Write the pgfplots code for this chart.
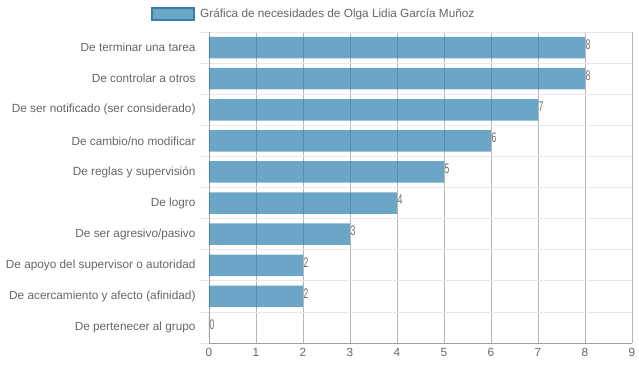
\documentclass[border=0pt]{standalone}
\usepackage{pgfplots}
\pgfplotsset{compat=1.18}
\usepackage{fontspec}
\setmainfont{Liberation Sans}
\definecolor{barbase}{HTML}{2D80AE}
\definecolor{barline}{HTML}{3A7FA9}
\definecolor{txt}{HTML}{666666}
\definecolor{vgrid}{HTML}{B5B5B5}
\definecolor{hgrid}{HTML}{E8E8E8}
\definecolor{axln}{HTML}{A0A0A0}
\definecolor{vallab}{HTML}{333333}
\begin{document}
\begin{tikzpicture}
\useasboundingbox (-209bp,-29bp) rectangle (430bp,343bp);
\begin{axis}[
  at={(0,0)}, anchor=south west,
  scale only axis, width=423bp, height=311bp,
  xbar, bar width=21.5bp, bar shift=0pt,
  xmin=0, xmax=9, ymin=-0.5, ymax=9.5, y dir=reverse,
  xtick={0,...,9},
  ytick={0,...,9},
  yticklabels={De terminar una tarea, De controlar a otros, De ser notificado (ser considerado), De cambio/no modificar, De reglas y supervisión, De logro, De ser agresivo/pasivo, De apoyo del supervisor o autoridad, De acercamiento y afecto (afinidad), De pertenecer al grupo},
  minor ytick={-0.5,0.5,...,9.5},
  axis x line*=bottom, axis y line*=left,
  axis line style={axln, line width=0.8bp},
  xmajorgrids, major x grid style={vgrid, line width=0.8bp},
  yminorgrids, minor y grid style={hgrid, line width=0.8bp},
  major tick length=0pt, minor tick length=10bp, tick align=outside,
  minor y tick style={hgrid, line width=0.8bp},
  ticklabel style={font=\fontsize{11.8bp}{14bp}\selectfont, text=txt},
  yticklabel style={xshift=-10bp},
  xticklabel style={yshift=-2bp},
  /pgf/number format/assume math mode=true,
  nodes near coords={\scalebox{0.62}[1]{\pgfmathprintnumber{\pgfplotspointmeta}}},
  nodes near coords style={text=vallab, anchor=west, inner sep=0.5bp, yshift=3bp, font=\fontsize{14bp}{16bp}\selectfont},
  legend style={at={(0.248,1.058)}, anchor=center, draw=none, fill=none, font=\fontsize{11.8bp}{14bp}\selectfont, text=txt},
  legend image code/.code={\draw[fill=barbase,fill opacity=0.7,draw=barline,line width=1.8bp] (0bp,-6bp) rectangle (42bp,6bp);},
]
\addplot[fill=barbase, fill opacity=0.7, draw=none] coordinates {
  (8,0) (8,1) (7,2) (6,3) (5,4) (4,5) (3,6) (2,7) (2,8) (0,9)
};
\addlegendentry{\hspace{3bp}Gráfica de necesidades de Olga Lidia García Muñoz}
\end{axis}
\end{tikzpicture}
\end{document}
